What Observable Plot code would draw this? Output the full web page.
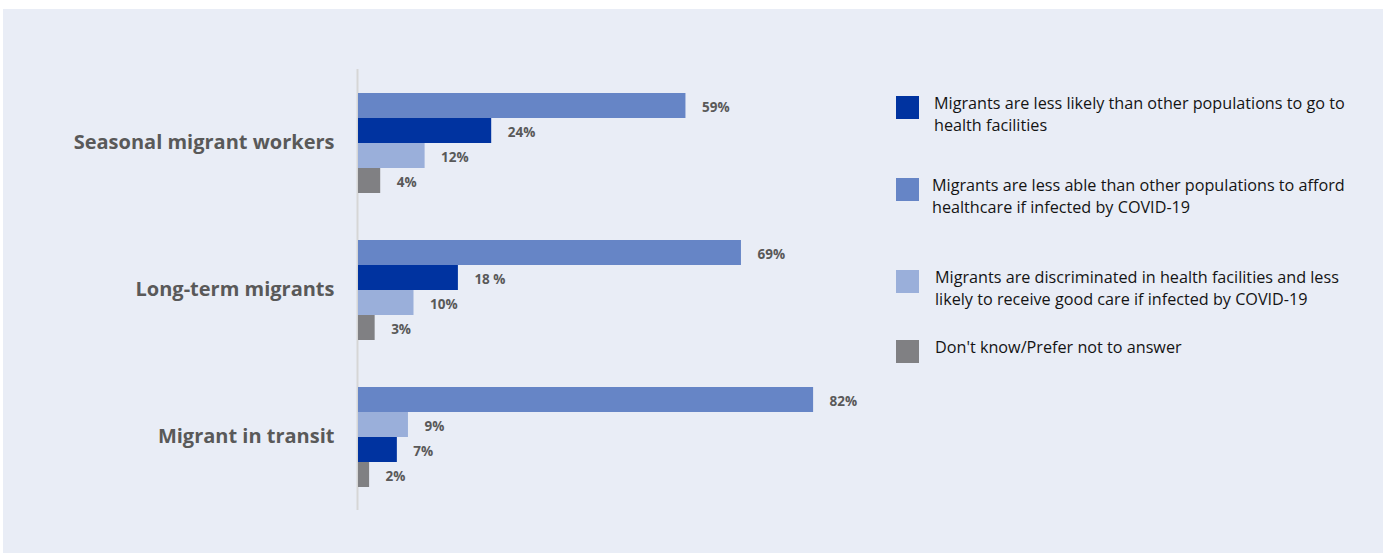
<!DOCTYPE html>
<html><head><meta charset="utf-8">
<script src="https://cdn.jsdelivr.net/npm/d3@7"></script>
<script src="https://cdn.jsdelivr.net/npm/@observablehq/plot@0.6"></script>
<style>
body{margin:0;background:#fff;}
#wrap{position:relative;width:1383px;height:553px;overflow:hidden;}
#panel{position:absolute;left:3px;top:9px;right:0;bottom:0;background:#e9edf6;}
#chart{position:absolute;left:0;top:0;}
.legtxt{position:absolute;font-family:"Open Sans",Lato,sans-serif;font-size:16.2px;line-height:22px;color:#141414;white-space:pre;}
.sw{position:absolute;width:23px;height:23px;}
</style></head>
<body>
<div id="wrap"><div id="panel"></div><div id="chart"></div></div>
<script>
const groups = ["Seasonal migrant workers", "Long-term migrants", "Migrant in transit"];
const series = [
  "Migrants are less likely than other populations to go to\nhealth facilities",
  "Migrants are less able than other populations to afford\nhealthcare if infected by COVID-19",
  "Migrants are discriminated in health facilities and less\nlikely to receive good care if infected by COVID-19",
  "Don't know/Prefer not to answer"
];
const colors = ["#0033a0", "#6685c6", "#9aafda", "#808083"];
const lessLikely = [24, 18, 7];
const lessAble = [59, 69, 82];
const discriminated = [12, 10, 9];
const dontKnow = [4, 3, 2];
const lessLikelyLabels = ["24%", "18 %", "7%"];
const lessAbleLabels = ["59%", "69%", "82%"];
const discriminatedLabels = ["12%", "10%", "9%"];
const dontKnowLabels = ["4%", "3%", "2%"];

const valuesBySeries = [lessLikely, lessAble, discriminated, dontKnow];
const labelsBySeries = [lessLikelyLabels, lessAbleLabels, discriminatedLabels, dontKnowLabels];

const rows = [];
groups.forEach((g, i) => {
  const grp = series.map((s, j) => ({group: g, series: s, value: valuesBySeries[j][i], label: labelsBySeries[j][i]}));
  grp.sort((a, b) => b.value - a.value).forEach((r, k) => { r.rank = k; rows.push(r); });
});

const plot = Plot.plot({
  width: 1383,
  height: 553,
  marginLeft: 358,
  marginRight: 470,
  marginTop: 69,
  marginBottom: 43,
  style: {fontFamily: "'Open Sans', Lato, sans-serif", background: "transparent"},
  x: {domain: [0, 100], axis: null},
  y: {domain: [0, 1, 2, 3], paddingInner: 0, paddingOuter: 0.94, axis: null},
  fy: {domain: groups, padding: 0},
  color: {domain: series, range: colors},
  marks: [
    Plot.axisFy({anchor: "left", tickSize: 0, tickPadding: 24, fontSize: 20, fontWeight: "bold", fill: "#595959", label: null}),
    Plot.ruleX([0], {stroke: "#d6d6d6", strokeWidth: 2, dx: -1}),
    Plot.barX(rows, {x: "value", y: "rank", fy: "group", fill: "series"}),
    Plot.text(rows, {x: "value", y: "rank", fy: "group", text: "label", dx: 16, dy: 2, textAnchor: "start", fontSize: 13.5, fontWeight: "bold", fill: "#595959", letterSpacing: 0.5})
  ]
});
document.getElementById("chart").appendChild(plot);

// legend
const legendPos = [
  {sy: 96, tx: 934, ty: 92},
  {sy: 178, tx: 932, ty: 174},
  {sy: 270, tx: 935, ty: 266},
  {sy: 340, tx: 935, ty: 336}
];
const wrap = document.getElementById("wrap");
series.forEach((s, j) => {
  const sw = document.createElement("div");
  sw.className = "sw";
  sw.style.left = "896px";
  sw.style.top = legendPos[j].sy + "px";
  sw.style.background = colors[j];
  wrap.appendChild(sw);
  const t = document.createElement("div");
  t.className = "legtxt";
  t.style.left = legendPos[j].tx + "px";
  t.style.top = legendPos[j].ty + "px";
  t.textContent = s;
  wrap.appendChild(t);
});
</script>
</body></html>
